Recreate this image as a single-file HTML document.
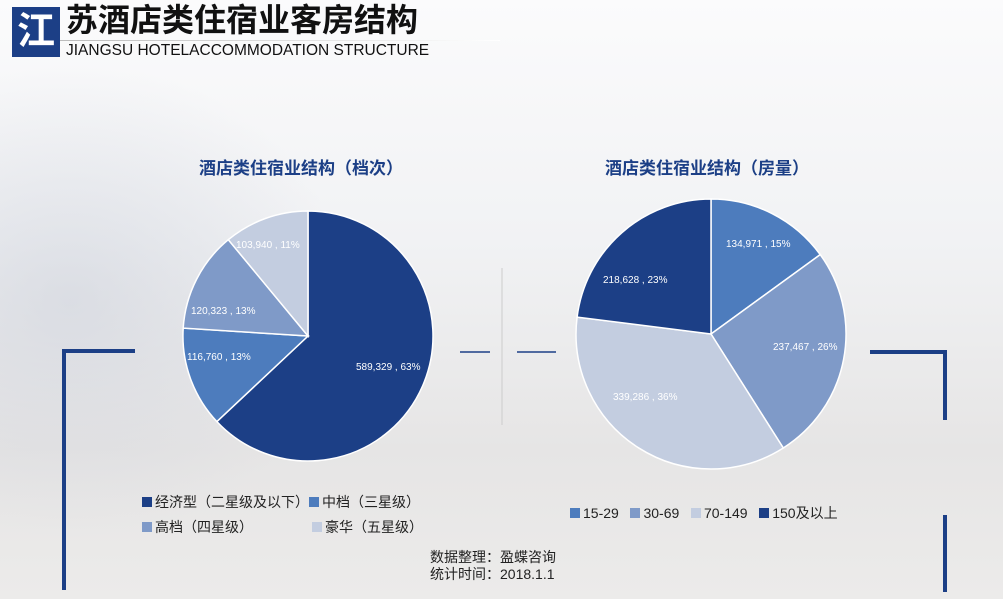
<!DOCTYPE html><html><head><meta charset="utf-8"><style>
body{margin:0;width:1003px;height:599px;overflow:hidden;font-family:"Liberation Sans","Noto Sans CJK SC",sans-serif;background:linear-gradient(180deg,#fbfbfc 0%,#f1f2f4 40%,#e6e5e5 75%,#ecebea 100%);position:relative}
.a{position:absolute;white-space:nowrap}
.sq{display:inline-block;width:10px;height:10px;margin-right:3px;vertical-align:0}
</style></head><body>
<div class="a" style="left:0;top:60px;width:350px;height:480px;background:radial-gradient(ellipse at 20% 50%,rgba(195,200,212,0.45),rgba(255,255,255,0) 70%)"></div>
<div class="a" style="left:12px;top:7px;width:48px;height:50px;background:#1c3f86;color:#fff;font-size:38px;font-weight:bold;line-height:50px;text-align:center">江</div>
<div class="a" style="left:66px;top:3px;font-size:32px;line-height:35px;font-weight:bold;color:#111">苏酒店类住宿业客房结构</div>
<div class="a" style="left:66px;top:43px;font-size:15.5px;line-height:16px;color:#111">JIANGSU HOTELACCOMMODATION STRUCTURE</div>
<div class="a" style="left:60px;top:40px;width:440px;height:1px;background:linear-gradient(90deg,#bbb,#fff)"></div>
<div class="a" style="left:199px;top:154px;font-size:17px;font-weight:bold;color:#1c3f86">酒店类住宿业结构（档次）</div>
<div class="a" style="left:605px;top:154px;font-size:17px;font-weight:bold;color:#1c3f86">酒店类住宿业结构（房量）</div>
<svg class="a" style="left:0;top:0" width="1003" height="599">
<g fill="none" stroke="#1c3f86" stroke-width="4">
<path d="M135 351H64V590"/><path d="M870 352H945V420"/><path d="M945 515V592"/>
</g>
<g stroke="#1c3f86" stroke-width="1.5"><path d="M460 352H490M517 352H556"/></g>
<path d="M502 268V425" stroke="#ccc" stroke-width="1"/>
<g stroke="#fff" stroke-width="1.5">
<path d="M308 336L308 211A125 125 0 1 1 216.9 421.6Z" fill="#1c3f86"/>
<path d="M308 336L216.9 421.6A125 125 0 0 1 183.2 328.1Z" fill="#4d7cbd"/>
<path d="M308 336L183.2 328.1A125 125 0 0 1 228.3 239.7Z" fill="#7f9ac8"/>
<path d="M308 336L228.3 239.7A125 125 0 0 1 308 211Z" fill="#c3cde0"/>
<path d="M711 334L711 199A135 135 0 0 1 820.2 254.6Z" fill="#4d7cbd"/>
<path d="M711 334L820.2 254.6A135 135 0 0 1 783.3 448Z" fill="#7f9ac8"/>
<path d="M711 334L783.3 448A135 135 0 0 1 577.1 317.1Z" fill="#c3cde0"/>
<path d="M711 334L577.1 317.1A135 135 0 0 1 711 199Z" fill="#1c3f86"/>
</g>
<g font-size="10" font-family="Liberation Sans,sans-serif">
<text x="356" y="370" fill="#fff">589,329 , 63%</text>
<text x="187" y="360" fill="#fff">116,760 , 13%</text>
<text x="191" y="314" fill="#fff">120,323 , 13%</text>
<text x="236" y="248" fill="#fff">103,940 , 11%</text>
<text x="726" y="247" fill="#fff">134,971 , 15%</text>
<text x="773" y="350" fill="#fff">237,467 , 26%</text>
<text x="613" y="400" fill="#fff">339,286 , 36%</text>
<text x="603" y="283" fill="#fff">218,628 , 23%</text>
</g>
</svg>
<div class="a" style="left:142px;top:492px;font-size:14px;color:#222"><span class="sq" style="background:#1c3f86"></span>经济型（二星级及以下）<span class="sq" style="background:#4d7cbd"></span>中档（三星级）</div>
<div class="a" style="left:142px;top:517px;font-size:14px;color:#222"><span class="sq" style="background:#7f9ac8"></span>高档（四星级）</div>
<div class="a" style="left:312px;top:517px;font-size:14px;color:#222"><span class="sq" style="background:#c3cde0"></span>豪华（五星级）</div>
<div class="a" style="left:570px;top:503px;font-size:14px;color:#222"><span class="sq" style="background:#4d7cbd"></span>15-29 &nbsp;&nbsp;<span class="sq" style="background:#7f9ac8"></span>30-69 &nbsp;&nbsp;<span class="sq" style="background:#c3cde0"></span>70-149 &nbsp;&nbsp;<span class="sq" style="background:#1c3f86"></span>150及以上</div>
<div class="a" style="left:430px;top:549px;font-size:14px;color:#222;line-height:17px">数据整理：盈蝶咨询<br>统计时间：2018.1.1</div>
</body></html>
